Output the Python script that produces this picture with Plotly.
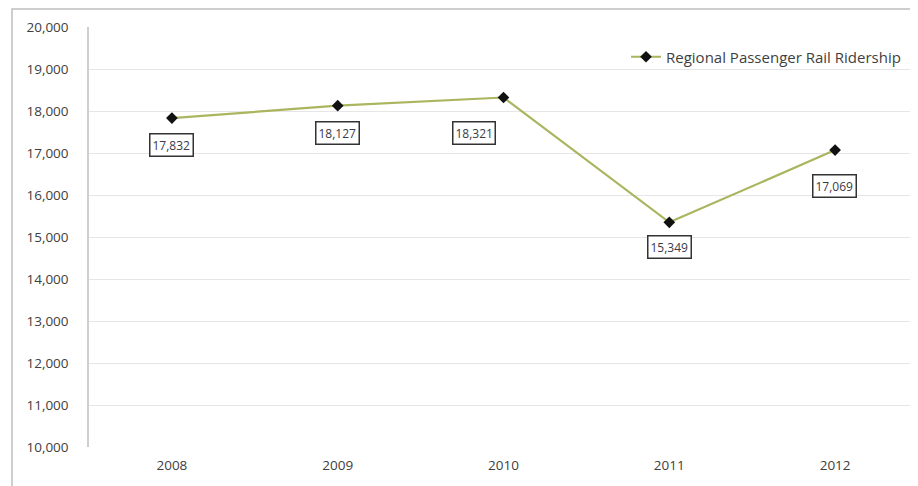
import plotly.graph_objects as go

years = ["2008", "2009", "2010", "2011", "2012"]
ridership = [17832, 18127, 18321, 15349, 17069]
series_name = "Regional Passenger Rail Ridership"
y_ticks = list(range(10000, 20001, 1000))

# label offsets (pixels) for data-label boxes
label_shift = [(0, -27), (0, -27), (-30, -35), (0, -25), (-1, -36)]

FONT = "Open Sans"
OFF = 8  # browser body margin

fig = go.Figure()
fig.add_trace(go.Scatter(
    x=years, y=ridership, mode="lines+markers", name=series_name,
    line=dict(color="#aab55e", width=2.2),
    marker=dict(symbol="diamond", size=9, color="#111111"),
    showlegend=True,
))

for i, (v, (dx, dy)) in enumerate(zip(ridership, label_shift)):
    fig.add_annotation(
        x=i, y=v, xref="x", yref="y", text=f"{v:,}", showarrow=False,
        xshift=dx, yshift=dy,
        font=dict(family=FONT, size=12, color="#3a3a4a"),
        bgcolor="white", bordercolor="#333333", borderwidth=1.5, borderpad=2,
    )

W, H = 918 - OFF, 486 - OFF
L, T, B, R = 89 - OFF, 27 - OFF, 39, 0
pw, ph = W - L - R, H - T - B

def px_x(p):
    return (p - OFF - L) / pw

def px_y(p):
    return (H - B - (p - OFF)) / ph

fig.add_shape(type="rect", xref="paper", yref="paper",
              x0=px_x(12), x1=px_x(930), y0=px_y(9), y1=px_y(500),
              line=dict(color="#bfbfbf", width=1.5), layer="below")

fig.update_layout(
    width=W, height=H,
    margin=dict(l=L, r=R, t=T, b=B, pad=0),
    paper_bgcolor="white", plot_bgcolor="white",
    font=dict(family=FONT, size=13, color="#404040"),
    legend=dict(x=px_x(626), y=px_y(57), xanchor="left", yanchor="middle",
                bgcolor="rgba(0,0,0,0)",
                font=dict(family=FONT, size=15, color="#3f3f3f")),
    xaxis=dict(type="category", range=[-0.5, 4.5], showgrid=False,
               showline=False, zeroline=False, ticks="", ticklabelstandoff=8,
               tickfont=dict(size=13.5, color="#404040")),
    yaxis=dict(range=[10000, 20000], tickvals=y_ticks,
               ticktext=[f"{t:,}" for t in y_ticks],
               showgrid=True, gridcolor="#e6e6e6", gridwidth=1,
               showline=True, linecolor="#cfcfcf", linewidth=1.5,
               zeroline=False, ticks="", ticklabelstandoff=16,
               tickfont=dict(size=13.5, color="#404040")),
)

fig.write_html("out.html")
